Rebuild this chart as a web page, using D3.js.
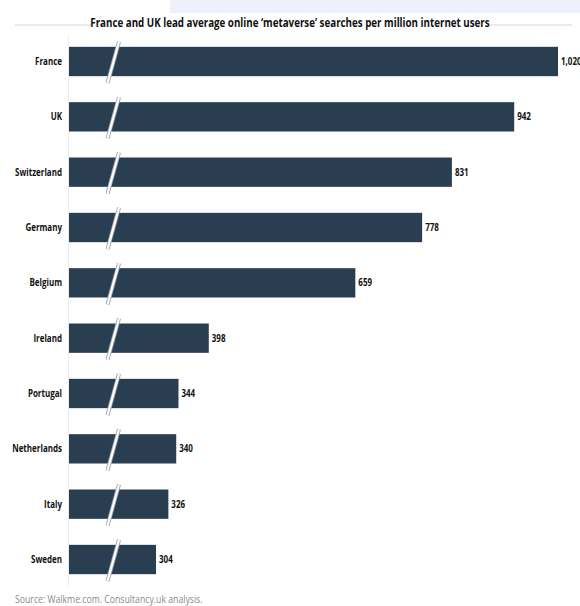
<!DOCTYPE html>
<html>
<head>
<meta charset="utf-8">
<script src="https://cdn.jsdelivr.net/npm/d3@7"></script>
<style>
  body { margin: 0; background: #fff; }
  text { font-family: "Open Sans", sans-serif; }
</style>
</head>
<body>
<div id="chart"></div>
<script>
// data
var countries = ["France", "UK", "Switzerland", "Germany", "Belgium", "Ireland", "Portugal", "Netherlands", "Italy", "Sweden"];
var searches = [1020, 942, 831, 778, 659, 398, 344, 340, 326, 304];
var valueLabels = ["1,020", "942", "831", "778", "659", "398", "344", "340", "326", "304"];

var width = 580, height = 606;
var squeeze = 0.8; // narrow look of the original font

var svg = d3.select("#chart").append("svg")
    .attr("width", width)
    .attr("height", height);

// light band at the top right
svg.append("rect")
    .attr("x", 170).attr("y", 0)
    .attr("width", 410).attr("height", 13)
    .style("fill", "#eef0fb");

// title with rules either side
svg.append("line")
    .attr("x1", 15).attr("x2", 92).attr("y1", 25).attr("y2", 25)
    .style("stroke", "#d6d6d6");
svg.append("line")
    .attr("x1", 488).attr("x2", 572).attr("y1", 25).attr("y2", 25)
    .style("stroke", "#d6d6d6");
svg.append("text")
    .attr("transform", "translate(290,27) scale(0.85,1)")
    .attr("text-anchor", "middle")
    .style("font-size", "11.5px")
    .style("font-weight", "bold")
    .style("fill", "#111")
    .text("France and UK lead average online \u2018metaverse\u2019 searches per million internet users");

// broken axis: bars start at ~149, not zero
var x = d3.scaleLinear()
    .domain([149, 1020])
    .range([69, 558]);

var y = d3.scaleBand()
    .domain(countries)
    .range([33, 588])
    .paddingInner(0.47)
    .paddingOuter(0.25);

var data = countries.map(function(c, i) {
  return {name: c, value: searches[i], label: valueLabels[i]};
});

// axis line
svg.append("line")
    .attr("x1", 68.5).attr("x2", 68.5)
    .attr("y1", 36).attr("y2", 586)
    .style("stroke", "#ececec");

var row = svg.append("g")
  .selectAll("g")
  .data(data)
  .enter().append("g");

row.append("rect")
    .attr("x", x(149))
    .attr("y", function(d) { return y(d.name); })
    .attr("width", function(d) { return x(d.value) - x(149); })
    .attr("height", y.bandwidth())
    .style("fill", "#2a3e51");

// break marks
row.append("line")
    .attr("x1", 107.5)
    .attr("y1", function(d) { return y(d.name) + y.bandwidth() + 7; })
    .attr("x2", 119)
    .attr("y2", function(d) { return y(d.name) - 5; })
    .style("stroke", "#9aa3ad")
    .style("stroke-width", 4);
row.append("line")
    .attr("x1", 107.5)
    .attr("y1", function(d) { return y(d.name) + y.bandwidth() + 7; })
    .attr("x2", 119)
    .attr("y2", function(d) { return y(d.name) - 5; })
    .style("stroke", "#fff")
    .style("stroke-width", 2.2);

// category names
row.append("text")
    .attr("transform", function(d) {
      return "translate(62," + (y(d.name) + y.bandwidth() / 2) + ") scale(" + squeeze + ",1)";
    })
    .attr("dy", "0.35em")
    .attr("text-anchor", "end")
    .style("font-size", "10px")
    .style("font-weight", "bold")
    .style("fill", "#111")
    .text(function(d) { return d.name; });

// values
row.append("text")
    .attr("transform", function(d) {
      return "translate(" + (x(d.value) + 3) + "," + (y(d.name) + y.bandwidth() / 2) + ") scale(" + squeeze + ",1)";
    })
    .attr("dy", "0.35em")
    .style("font-size", "10px")
    .style("font-weight", "bold")
    .style("fill", "#111")
    .text(function(d) { return d.label; });

// source
svg.append("text")
    .attr("transform", "translate(15,603) scale(0.83,1)")
    .style("font-size", "10.5px")
    .style("fill", "#8a8a8a")
    .text("Source: Walkme.com. Consultancy.uk analysis.");
</script>
</body>
</html>
